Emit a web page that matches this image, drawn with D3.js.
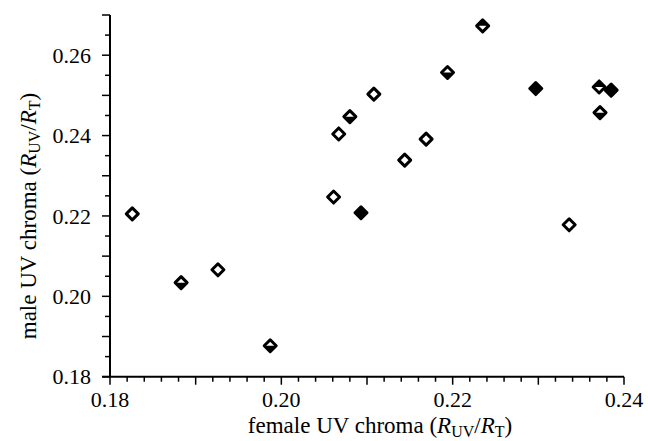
<!DOCTYPE html>
<html>
<head>
<meta charset="utf-8">
<script src="https://cdn.jsdelivr.net/npm/d3@7"></script>
<style>
  body { margin: 0; background: #fff; }
  text { font-family: "Liberation Serif", "Times New Roman", serif; fill: #000; }
</style>
</head>
<body>
<div id="chart"></div>
<script>
// female vs male UV chroma, one point per pair
var femaleChroma = [0.1826, 0.1883, 0.1926, 0.1987, 0.2061, 0.2093, 0.2067, 0.2080, 0.2108,
                    0.2144, 0.2169, 0.2194, 0.2235, 0.2297, 0.2336, 0.2371, 0.2385, 0.2372];
var maleChroma   = [0.2205, 0.2034, 0.2066, 0.1877, 0.2247, 0.2208, 0.2404, 0.2447, 0.2503,
                    0.2339, 0.2391, 0.2557, 0.2673, 0.2517, 0.2178, 0.2521, 0.2513, 0.2457];
// o = open, f = filled, b = lower half filled, t = upper half filled
var markerFill   = ["o", "b", "o", "b", "o", "f", "o", "b", "o",
                    "o", "o", "b", "t", "f", "o", "t", "f", "b"];
var xTickLabels = [0.18, 0.20, 0.22, 0.24];
var yTickLabels = [0.18, 0.20, 0.22, 0.24, 0.26];

var w = 648, h = 441;
var svg = d3.select("#chart").append("svg")
    .attr("width", w)
    .attr("height", h);

var x = d3.scaleLinear().domain([0.18, 0.24]).range([110, 624]);
var y = d3.scaleLinear().domain([0.18, 0.27]).range([376.7, 15]);

var fmt = d3.format(".2f");

// x axis: short ticks every 0.002, long every 0.01
var xMinor = d3.range(0, 31).map(function(i) { return 0.18 + i * 0.002; });
var xAxis = svg.append("g").attr("transform", "translate(0," + y.range()[0] + ")");
xAxis.append("line")
    .attr("x1", x.range()[0] - 8).attr("x2", x.range()[1])
    .attr("stroke", "#000").attr("stroke-width", 2);
xAxis.selectAll("line.tick")
    .data(xMinor)
    .enter().append("line")
    .attr("class", "tick")
    .attr("x1", function(d) { return x(d); })
    .attr("x2", function(d) { return x(d); })
    .attr("y1", 0)
    .attr("y2", function(d, i) { return i % 5 == 0 ? 8 : 5; })
    .attr("stroke", "#000").attr("stroke-width", 1.5);
xAxis.selectAll("text")
    .data(xTickLabels)
    .enter().append("text")
    .attr("x", function(d) { return x(d); })
    .attr("y", 30)
    .attr("text-anchor", "middle")
    .style("font-size", "22px")
    .text(fmt);

// y axis: short ticks every 0.005, long every 0.01
var yMinor = d3.range(0, 19).map(function(i) { return 0.18 + i * 0.005; });
var yAxis = svg.append("g").attr("transform", "translate(" + x.range()[0] + ",0)");
yAxis.append("line")
    .attr("y1", y.range()[0]).attr("y2", y.range()[1])
    .attr("stroke", "#000").attr("stroke-width", 2);
yAxis.selectAll("line.tick")
    .data(yMinor)
    .enter().append("line")
    .attr("class", "tick")
    .attr("y1", function(d) { return y(d); })
    .attr("y2", function(d) { return y(d); })
    .attr("x1", 0)
    .attr("x2", function(d, i) { return i % 2 == 0 ? -8 : -5; })
    .attr("stroke", "#000").attr("stroke-width", 1.5);
yAxis.selectAll("text")
    .data(yTickLabels)
    .enter().append("text")
    .attr("x", -19)
    .attr("y", function(d) { return y(d); })
    .attr("dy", "0.35em")
    .attr("text-anchor", "end")
    .style("font-size", "22px")
    .text(fmt);

// axis titles
function title(sel, who) {
    sel.append("tspan").text(who + " UV chroma (");
    sel.append("tspan").style("font-style", "italic").text("R");
    sel.append("tspan").attr("baseline-shift", "-25%").style("font-size", "16px").text("UV");
    sel.append("tspan").text("/");
    sel.append("tspan").style("font-style", "italic").text("R");
    sel.append("tspan").attr("baseline-shift", "-25%").style("font-size", "16px").text("T");
    sel.append("tspan").text(")");
}
svg.append("text")
    .attr("x", 380).attr("y", 433)
    .attr("text-anchor", "middle")
    .style("font-size", "23px")
    .call(title, "female");
svg.append("text")
    .attr("transform", "translate(36,216) rotate(-90)")
    .attr("text-anchor", "middle")
    .style("font-size", "23px")
    .call(title, "male");

// diamonds
var r = 6;
var diamond = function(d) { return "M0," + (-r) + "L" + r + ",0L0," + r + "L" + (-r) + ",0Z"; };
var pts = svg.selectAll("g.pt")
    .data(femaleChroma.map(function(f, i) { return { x: f, y: maleChroma[i], m: markerFill[i] }; }))
    .enter().append("g")
    .attr("class", "pt")
    .attr("transform", function(d) { return "translate(" + x(d.x) + "," + y(d.y) + ")"; });
pts.append("path")
    .attr("d", diamond)
    .attr("fill", function(d) { return d.m == "f" ? "#000" : "#fff"; })
    .attr("stroke", "#000")
    .attr("stroke-width", 3)
    .attr("stroke-linejoin", "round");
pts.filter(function(d) { return d.m == "b"; })
    .append("path")
    .attr("d", "M" + (-r) + ",0L" + r + ",0L0," + r + "Z")
    .attr("fill", "#000");
pts.filter(function(d) { return d.m == "t"; })
    .append("path")
    .attr("d", "M" + (-r) + ",0L" + r + ",0L0," + (-r) + "Z")
    .attr("fill", "#000");
</script>
</body>
</html>
